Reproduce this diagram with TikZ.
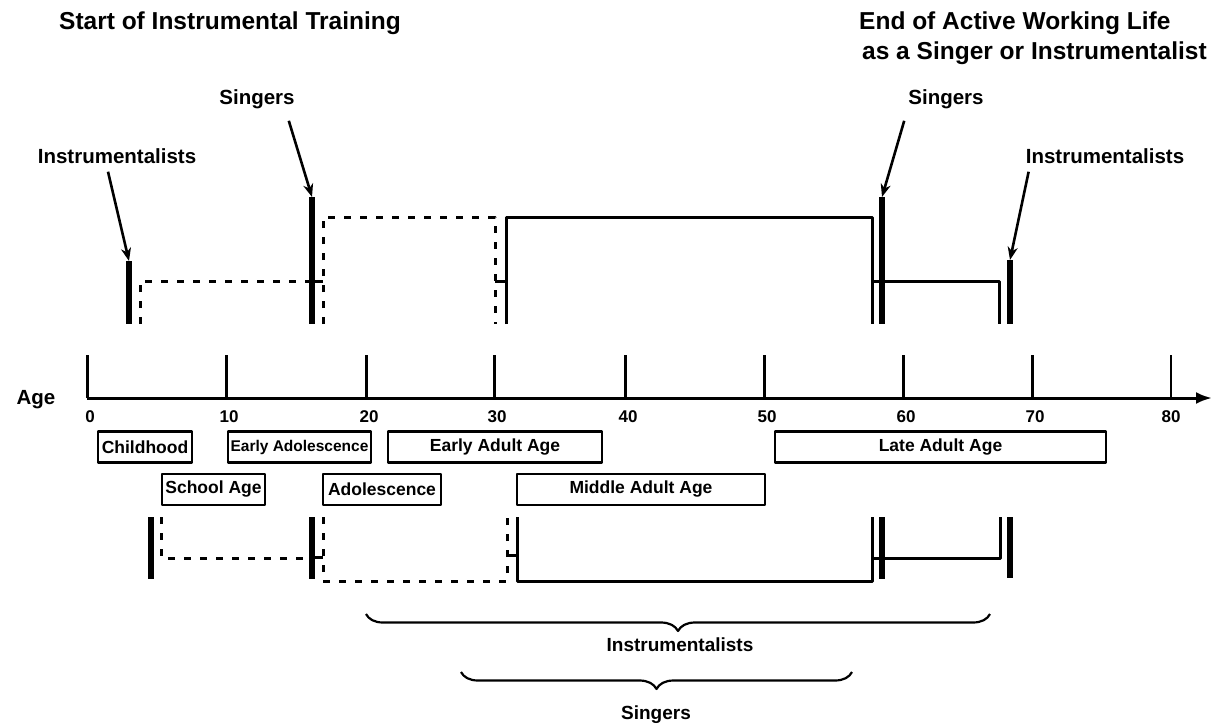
\documentclass[tikz,border=0pt]{standalone}
\usepackage{fontspec}
\setmainfont{Liberation Sans}
\usetikzlibrary{%
  positioning
 ,arrows.meta
 ,calc
 ,decorations.pathreplacing
}
\tikzstyle{bar}=[line width=6pt]
\tikzstyle{run}=[line width=3pt]
\tikzstyle{gap}=[line width=3pt,dash pattern=on 7pt off 9pt]
\tikzstyle{per}=[draw,line width=2.8pt,minimum height=31pt,inner sep=0pt,
  font=\bfseries\fontsize{17.5}{18}\selectfont]
\tikzstyle{lab}=[inner sep=2pt,font=\bfseries\fontsize{20.5}{22}\selectfont]
\tikzstyle{low}=[inner sep=2pt,font=\bfseries\fontsize{19}{21}\selectfont]
\tikzstyle{ttl}=[inner sep=0pt,font=\bfseries\fontsize{24.5}{26}\selectfont]
\tikzstyle{num}=[inner sep=0pt,font=\bfseries\fontsize{17}{18}\selectfont]
\tikzstyle{ptr}=[line width=2.6pt,-{Stealth[length=13pt,width=10pt,inset=4pt]}]
\tikzstyle{brc}=[line width=2.2pt,decorate,decoration={brace,mirror,amplitude=17pt}]

\begin{document}
\begin{tikzpicture}[x=1pt,y=-1pt,line join=round]
  \useasboundingbox (0,0) rectangle (1212,726);
  % the titles
  \node[ttl](start)at(230,23){Start of Instrumental Training};
  \node[ttl,anchor=west](end1)at(859,23){End of Active Working Life};
  \node[ttl,anchor=west](end2)at(862,53){as a Singer or Instrumentalist};
  % the labels over the bars
  \node[lab](instrL)at(117,156){Instrumentalists};
  \node[lab](singL)at(257,99){Singers};
  \node[lab](singR)at(946,99){Singers};
  \node[lab](instrR)at(1105,156){Instrumentalists};
  % the bar tops
  \coordinate(iS)at(129,261);\coordinate(sS)at(312,197);
  \coordinate(sE)at(882,197);\coordinate(iE)at(1010,260);
  % the arrows
  \draw[ptr] ([xshift=-9pt,yshift=-6pt]instrL.south)--(iS);
  \draw[ptr] ([xshift=-8pt,yshift=-10pt]singL.south east)--(sS);
  \draw[ptr] ([xshift=-2pt,yshift=-10pt]singR.south west)--(sE);
  \draw[ptr] ([xshift=5pt,yshift=-6pt]instrR.south west)--(iE);
  %%%%%%%
  % upper course
  \draw[bar] (iS)--(129,324);
  \draw[gap] (140,324)--(140,281)--(312,281);
  \draw[bar] (sS)--(312,324);
  \draw[run] (312,281)--(323,281);
  \draw[gap] (323,324)--(323,217)--(495,217)--(495,324);
  \draw[run] (495,281)--(506,281);
  \draw[run] (506,324)--(506,217)--(872,217)--(872,324);
  \draw[bar] (sE)--(882,324);
  \draw[run] (872,281)--(999,281)--(999,324);
  \draw[bar] (iE)--(1010,324);
  %%%%%%%
  % the age axis
  \node[lab](age)at(36,400){Age};
  \draw[line width=3pt,-{Latex[length=16pt,width=12pt]}] (87,398)--(1212,398);
  \foreach \x/\a in {87/0,226/10,366/20,494/30,625/40,764/50,903/60,1032/70}{
    \draw[run] (\x,355)--(\x,398);
    \node[num](n\a)at(\x+3,417){\a};
  }
  \draw[line width=1.5pt] (1171,355)--(1171,398);
  \node[num](n80)at(1171,417){80};
  % the periods of life
  \node[per,minimum width=94pt](child)at(145,447){Childhood};
  \node[per,minimum width=143pt,font=\bfseries\fontsize{15.5}{16}\selectfont](eadol)at(299.5,447){Early Adolescence};
  \node[per,minimum width=214pt](eadult)at(495,447){Early Adult Age};
  \node[per,minimum width=331pt](ladult)at(940.5,447){Late Adult Age};
  \node[per,minimum width=103pt](school)at(213.5,489.5){School Age};
  \node[per,minimum width=118pt](adol)at(382,489.5){Adolescence};
  \node[per,minimum width=248pt](madult)at(641,489.5){Middle Adult Age};
  %%%%%%%
  % lower course
  \draw[bar] (151,517)--(151,579);
  \draw[gap] (161,517)--(161,558)--(312,558);
  \draw[bar] (312,517)--(312,579);
  \draw[run] (312,557)--(323,557);
  \draw[gap] (323,517)--(323,581)--(507,581)--(507,517);
  \draw[run] (507,555)--(517,555);
  \draw[run] (517,517)--(517,581)--(872,581)--(872,517);
  \draw[bar] (882,517)--(882,579);
  \draw[run] (872,558)--(1000,558)--(1000,517);
  \draw[bar] (1010,517)--(1010,578);
  % the braces
  \coordinate(bi1)at(366,614);\coordinate(bi2)at(990,614);
  \coordinate(bs1)at(461,672);\coordinate(bs2)at(852,672);
  \draw[brc] (bi1)--(bi2);
  \draw[brc] (bs1)--(bs2);
  \node[low](instrB)at(680,645){Instrumentalists};
  \node[low](singB)at(656,715){Singers};
\end{tikzpicture}
\end{document}
